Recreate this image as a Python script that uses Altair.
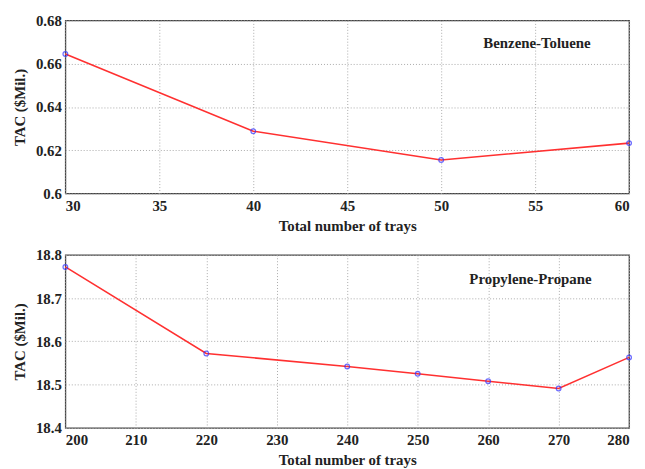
import altair as alt
import pandas as pd

# Benzene-Toluene
bt_trays = [30, 40, 50, 60]
bt_tac = [0.6645, 0.6288, 0.6155, 0.6233]
# Propylene-Propane
pp_trays = [200, 220, 240, 250, 260, 270, 280]
pp_tac = [18.772, 18.572, 18.542, 18.525, 18.508, 18.491, 18.563]

bt_label = ["Benzene-Toluene"]
bt_label_pos = [55.1, 0.6697]
pp_label = ["Propylene-Propane"]
pp_label_pos = [266.0, 18.743]

FONT = "Liberation Serif"
W, H = 570, 175

def panel(xs, ys, xdom, xstep, ydom, ystep, label, lpos):
    df = pd.DataFrame({"x": xs, "y": ys})
    xvals = list(range(xdom[0], xdom[1] + 1, xstep))
    n = int(round((ydom[1] - ydom[0]) / ystep))
    yvals = [round(ydom[0] + i * ystep, 4) for i in range(n + 1)]
    xenc = alt.X("x:Q", scale=alt.Scale(domain=xdom, nice=False, zero=False),
                 axis=alt.Axis(values=xvals, title="Total number of trays", format="d"))
    yenc = alt.Y("y:Q", scale=alt.Scale(domain=ydom, nice=False, zero=False),
                 axis=alt.Axis(values=yvals, title="TAC ($Mil.)", format="~g"))
    base = alt.Chart(df).encode(x=xenc, y=yenc)
    line = base.mark_line(color="#ff3030", strokeWidth=1.6)
    pts = base.mark_point(color="#3030ff", filled=False, size=22, strokeWidth=1.3)
    ldf = pd.DataFrame({"x": [lpos[0]], "y": [lpos[1]], "t": label})
    txt = alt.Chart(ldf).mark_text(font=FONT, fontWeight="bold", fontSize=15,
                                   color="#222222").encode(x="x:Q", y="y:Q", text="t:N")
    return (line + pts + txt).properties(width=W, height=H)

top = panel(bt_trays, bt_tac, [30, 60], 5, [0.6, 0.68], 0.02, bt_label, bt_label_pos)
bot = panel(pp_trays, pp_tac, [200, 280], 10, [18.4, 18.8], 0.1, pp_label, pp_label_pos)

chart = alt.vconcat(top, bot, spacing=13).properties(
    padding={"top": 2, "left": 4, "right": 2, "bottom": 0}
).configure_view(stroke="#444444", strokeWidth=1.3).configure_axis(
    labelFont=FONT, titleFont=FONT, labelFontWeight="bold", titleFontWeight="bold",
    labelFontSize=15, titleFontSize=15, labelColor="#222222", titleColor="#222222",
    domain=False, tickSize=0, labelPadding=5, titlePadding=5,
    grid=True, gridColor="#aaaaaa", gridDash=[1, 2], gridWidth=1
).configure_axisY(titlePadding=8, labelPadding=4)

chart.save("out.html", embed_options={"renderer": "svg", "actions": False})
